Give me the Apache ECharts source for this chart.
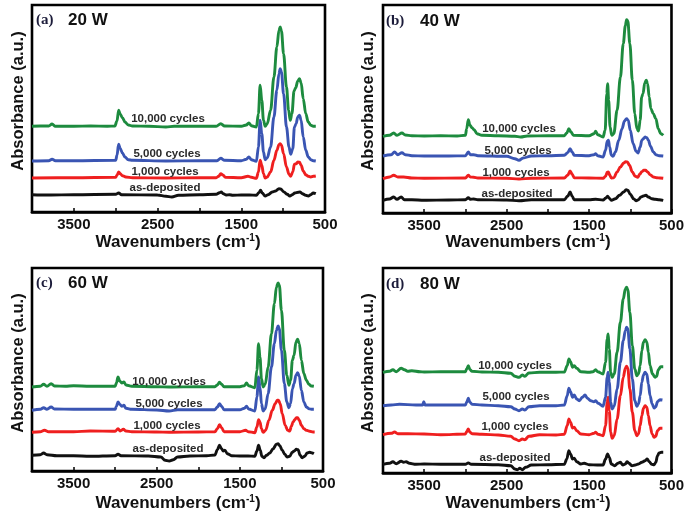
<!DOCTYPE html>
<html>
<head>
<meta charset="utf-8">
<script src="https://cdn.jsdelivr.net/npm/echarts@6/dist/echarts.min.js"></script>
<style>
  html, body { margin: 0; padding: 0; background: #fff; }
  #chart { width: 687px; height: 520px; }
</style>
</head>
<body>
<div id="chart"></div>
<script>
// FTIR absorbance spectra, [wavenumber (cm-1), absorbance (a.u., stacked offsets)]
const labelledTicks = [3500, 2500, 1500, 500];
const panelTags = ['(a)', '(b)', '(c)', '(d)'];
const powers = ['20 W', '40 W', '60 W', '80 W'];
const curveNames = ['as-deposited', '1,000 cycles', '5,000 cycles', '10,000 cycles'];

// ---- (a) 20 W ----
const a_asDeposited = [[4000,17.3],[3800,17],[3500,17.3],[3000,17.7],[2965,19],[2930,17.3],[2500,17],[2400,15.7],[2330,15],[2250,16.7],[2000,17.3],[1800,17.7],[1760,19.3],[1740,20],[1715,18.3],[1680,17],[1640,17.3],[1600,16.7],[1500,17],[1400,17],[1320,16.7],[1290,19.3],[1270,21.7],[1250,19],[1215,16],[1180,17.3],[1130,20],[1090,21],[1050,23.3],[1030,23],[990,20],[950,17.7],[920,16],[890,17.3],[860,19],[820,19.7],[800,20],[770,18.3],[730,16.7],[700,16],[670,17.3],[640,19],[610,18.3]];
const a_1000 = [[4000,34],[3500,34.3],[3000,34.7],[2985,36.7],[2965,40],[2945,38.3],[2920,36.3],[2880,35],[2800,34.3],[2400,34],[2000,34.3],[1800,34.3],[1770,35.7],[1745,38.3],[1720,37],[1690,34.7],[1500,34.3],[1420,35.7],[1380,34.7],[1320,33.7],[1295,40],[1275,51.7],[1255,46.7],[1235,38.3],[1215,34],[1190,35],[1150,40],[1110,51.7],[1075,61.7],[1050,67.3],[1035,68.3],[1020,66.7],[995,58.3],[960,45],[930,37.7],[910,35.7],[885,40],[865,47.7],[845,48.3],[825,50],[805,49.7],[785,46.7],[760,41],[730,37.3],[700,35.7],[670,35],[640,35.7],[610,36]];
const a_5000 = [[4000,51],[3800,51.3],[3760,52.7],[3720,51.3],[3500,51.3],[3000,51.7],[2985,56.7],[2965,67.7],[2945,63.3],[2920,59],[2890,55],[2850,52.3],[2800,51.7],[2400,51],[2000,51.3],[1790,51.3],[1745,53.7],[1700,51.7],[1500,51.3],[1440,52.7],[1410,55],[1380,52.3],[1320,50.7],[1295,65],[1275,91.7],[1255,78.3],[1235,60],[1215,52.3],[1190,54.3],[1150,65],[1110,95],[1075,121.7],[1050,138.3],[1035,143.3],[1020,140],[995,118.3],[960,85],[930,65],[910,57.7],[885,63.3],[865,85],[845,88.3],[825,95],[805,96.7],[785,91.7],[760,75],[730,61.7],[700,55],[670,52.3],[640,51.3],[610,51]];
const a_10000 = [[4000,85.7],[3900,86],[3800,86],[3760,88],[3720,85.7],[3500,85.7],[3300,86],[3100,85.7],[3010,86],[2985,91],[2965,101.7],[2945,97.7],[2920,94.3],[2890,90],[2850,87],[2800,86],[2600,85.7],[2400,85],[2300,85.7],[2000,85.7],[1800,85.7],[1745,88.3],[1700,86],[1500,85.7],[1440,87],[1410,89],[1380,86.3],[1320,85],[1295,98.3],[1275,126.7],[1255,111.7],[1235,91.7],[1215,85.7],[1190,88.3],[1150,101.7],[1110,135],[1075,165],[1050,181.7],[1035,185],[1020,181],[995,158.3],[960,125],[935,101.7],[915,91.7],[895,98.3],[870,121],[850,124.3],[825,131],[805,133.3],[785,129],[760,113.3],[730,98.3],[700,90],[670,86.7],[640,85.7],[610,85.7]];

// ---- (b) 40 W ----
const b_asDeposited = [[4000,12.7],[3920,14],[3870,16],[3830,13.7],[3780,16],[3740,13.3],[3650,13.3],[3500,12.7],[3200,13],[3000,13.3],[2965,15.3],[2940,13.7],[2900,14],[2850,13.3],[2500,13],[2350,12.3],[2200,13.3],[1800,13.3],[1760,16.7],[1730,21],[1705,16.7],[1680,13.3],[1500,13.3],[1420,13.7],[1330,13],[1300,14.7],[1275,16.7],[1255,14.7],[1230,12.7],[1180,14.3],[1130,17.7],[1080,21],[1050,23.3],[1030,22.7],[1000,18.7],[960,14.3],[930,12.3],[900,13.3],[870,16],[840,17],[810,17.7],[780,16],[740,14.3],[700,13.7],[650,13.3],[600,12.7]];
const b_1000 = [[4000,34.3],[3920,36],[3870,37.7],[3820,36],[3750,36],[3650,35],[3500,34.7],[3000,35],[2965,37.7],[2940,36],[2900,35.7],[2850,35],[2500,34.7],[2350,34],[2200,34.7],[1800,35],[1760,37.7],[1730,42],[1705,38.7],[1680,35.3],[1500,35],[1330,34.7],[1300,36.7],[1280,40.7],[1265,41],[1250,38],[1230,35],[1200,35.3],[1160,41],[1120,46],[1080,50],[1055,51.3],[1035,51],[1010,47.7],[975,41],[940,36.7],[910,35.7],[885,38.7],[860,41.3],[835,42.7],[815,42.7],[790,41],[760,38.3],[720,36],[680,35.3],[640,35],[600,34.7]];
const b_5000 = [[4000,57],[3900,58.3],[3860,61],[3820,58.3],[3770,60.3],[3730,58.3],[3650,57.3],[3500,57],[3200,57],[3000,57.3],[2965,61],[2940,58.3],[2900,58.3],[2850,57.3],[2500,56.7],[2400,54.3],[2350,52.7],[2300,55],[2200,57],[2000,57.3],[1800,57.7],[1760,60.3],[1730,64.3],[1705,61],[1680,57.7],[1500,57.3],[1440,58.3],[1420,59.3],[1395,57.3],[1330,56],[1300,62.7],[1280,71.7],[1265,72.7],[1250,66],[1230,57.7],[1210,56.7],[1180,61],[1140,72.7],[1100,84.3],[1070,92],[1045,94.3],[1025,92.7],[1000,82.7],[965,69.3],[930,61.7],[905,60],[880,66],[860,72.7],[840,74.3],[820,76],[800,75.3],[780,72.7],[755,66.7],[720,61],[690,58.3],[650,57.3],[600,57]];
const b_10000 = [[4000,76.7],[3920,77.7],[3870,80],[3830,77.7],[3770,80],[3730,78],[3650,77.3],[3500,77],[3300,77.3],[3100,77],[3000,77.7],[2985,84.3],[2965,93.3],[2945,87.7],[2920,85.3],[2895,83.3],[2860,79.3],[2800,77.7],[2600,77.3],[2400,76.7],[2330,76],[2250,77],[2000,77.3],[1800,77.3],[1770,80],[1745,84.3],[1720,81],[1690,77.7],[1500,77.3],[1440,79.3],[1420,81.7],[1395,78.3],[1330,76],[1305,82.7],[1285,119.3],[1275,129.3],[1262,112.7],[1245,86],[1225,77.7],[1200,79.3],[1160,102.7],[1120,135.7],[1085,169.3],[1060,187.3],[1045,193.3],[1030,192],[1005,169.3],[975,132.7],[945,99.3],[920,84.3],[900,82],[880,92.7],[862,116],[845,119.3],[825,130],[805,132.7],[790,129.3],[770,116],[750,104.3],[720,99.3],[690,94.3],[660,84.3],[630,79.3],[600,77.7]];

// ---- (c) 60 W ----
const c_asDeposited = [[4000,15.7],[3900,16.3],[3860,18],[3820,16.3],[3700,15.3],[3500,15.3],[3300,14.7],[3000,15.3],[2965,16.7],[2930,15.3],[2600,15],[2450,14],[2400,10.7],[2350,10],[2300,11.3],[2250,14],[2100,15],[1900,15.3],[1800,16],[1770,21.3],[1745,25.7],[1720,22.3],[1700,20],[1680,20.7],[1650,17.3],[1600,15.3],[1500,15],[1400,15],[1320,14.7],[1295,20],[1275,25.7],[1255,20.7],[1235,14.7],[1210,13.3],[1180,15.7],[1140,18],[1100,22.3],[1060,26.7],[1040,27.3],[1020,25.3],[990,20.7],[960,16.7],[930,14],[900,14.7],[870,18.7],[845,20],[820,21.7],[800,21.3],[775,15.7],[750,13.3],[720,14.7],[690,18],[660,18.7],[630,18],[610,17.3]];
const c_1000 = [[4000,38.7],[3900,39.3],[3850,40.7],[3800,39.3],[3500,39.3],[3300,40],[3000,39.7],[2965,42.3],[2940,40],[2900,41.7],[2870,40],[2800,39.3],[2500,39],[2350,38.7],[2000,39],[1800,39.3],[1770,42.3],[1745,46.3],[1720,43.3],[1690,39.3],[1500,39.3],[1430,40.7],[1400,39.3],[1320,38.3],[1295,44],[1275,51.3],[1258,49],[1240,42.3],[1220,38.7],[1190,40.7],[1150,50.7],[1110,60.7],[1075,67.3],[1050,70.7],[1035,70.7],[1015,67.3],[990,57.3],[955,45.7],[925,40.7],[900,40],[880,44.7],[860,49],[840,51.3],[820,53.3],[805,53.3],[785,50.7],[760,45.7],[730,42.3],[700,40.7],[660,39.7],[620,39],[600,39]];
const c_5000 = [[4000,60.7],[3900,61.7],[3860,63.3],[3820,61.7],[3770,64],[3730,62],[3500,61.7],[3000,61.7],[2985,64.7],[2965,69],[2945,66.7],[2920,64.7],[2895,65.7],[2870,62.7],[2800,61.7],[2500,61],[2350,60],[2250,61.3],[2000,61.3],[1800,61.3],[1770,64],[1745,67.3],[1720,64.7],[1690,61.3],[1500,61.3],[1445,62.7],[1420,64.7],[1395,62],[1320,60],[1295,74],[1275,94],[1258,84],[1240,67.3],[1220,60],[1195,62.3],[1160,77.3],[1120,104],[1085,127.3],[1060,140.7],[1040,145],[1025,142.3],[1000,120.7],[965,87.3],[935,69],[910,63.3],[890,67.3],[868,82.3],[848,87.3],[825,95.7],[805,98.3],[785,94.7],[760,80.7],[730,69],[700,64],[670,62.3],[640,61.7],[610,61.7]];
const c_10000 = [[4000,84],[3900,84.7],[3860,86.7],[3820,84.7],[3770,87.3],[3730,85],[3600,84.7],[3500,85.3],[3300,84.7],[3000,84.7],[2985,88],[2965,94],[2945,90],[2920,88],[2895,89],[2870,86],[2800,84.7],[2500,84.3],[2350,84],[2000,84.3],[1800,84.3],[1770,86],[1745,88.7],[1720,86.7],[1690,84.3],[1500,84.3],[1445,85.3],[1420,88],[1395,85.3],[1320,83.3],[1295,100.7],[1275,127.3],[1258,114],[1240,92.3],[1220,84],[1195,86.7],[1160,104],[1120,137.3],[1085,167.3],[1060,184],[1040,188],[1025,185.7],[1000,160.7],[965,120.7],[935,95.7],[910,85.7],[890,90.7],[868,110.7],[848,115.7],[825,129],[805,131.7],[785,127.3],[760,110.7],[730,97.3],[700,90.7],[670,86.7],[640,85],[610,84.7]];

// ---- (d) 80 W ----
const d_asDeposited = [[4000,8.7],[3920,9.7],[3880,11.3],[3840,9.3],[3780,11.7],[3750,10.7],[3720,11.3],[3680,9.7],[3600,8.7],[3500,9],[3300,8.7],[3000,8.7],[2965,10],[2930,8.7],[2600,8.3],[2450,7.3],[2400,4],[2370,3.3],[2340,4.7],[2310,3.3],[2270,5.7],[2200,8],[2000,8.3],[1800,8.7],[1770,14],[1745,22.3],[1725,19],[1700,14],[1680,14.7],[1650,11.3],[1600,9],[1560,9.7],[1500,8.3],[1400,8],[1330,8],[1300,14],[1275,19],[1255,15.7],[1230,9],[1190,7.3],[1150,9.7],[1120,10.7],[1090,8],[1060,9],[1040,11.3],[1015,9.7],[980,7.3],[940,8],[900,9],[860,10.7],[820,12.3],[795,14],[770,11.3],[740,8.7],[710,8.3],[690,10.7],[670,17.3],[650,20],[620,20.7],[600,20.7]];
const d_1000 = [[4000,38.3],[3900,39.7],[3860,41],[3820,39.3],[3700,39.3],[3500,39],[3300,38.3],[3000,39],[2985,41.3],[2965,44],[2945,40.7],[2920,39.3],[2800,38.7],[2600,38],[2450,36.7],[2400,34],[2350,32.3],[2310,34],[2280,33.3],[2230,36.7],[2100,38.3],[1900,38],[1800,38.7],[1765,47.3],[1745,54],[1725,50.7],[1700,45],[1680,45.7],[1650,42.3],[1600,39],[1500,38.3],[1440,39.7],[1420,40.7],[1390,38.7],[1330,37.3],[1300,47.3],[1280,70.7],[1268,75.7],[1255,62.3],[1238,40.7],[1220,34.7],[1195,37.3],[1160,54],[1120,77.3],[1085,95.7],[1060,104.7],[1045,106.7],[1030,104.7],[1005,84],[975,60.7],[945,42.3],[920,37.3],[900,39],[880,47.3],[860,57.3],[840,64.7],[820,67.3],[800,65.7],[780,57.3],[760,47.3],[735,39],[710,35.7],[690,36.7],[670,42.3],[640,44.7],[610,44.7]];
const d_5000 = [[4000,67.3],[3900,68],[3800,68.7],[3600,68],[3520,68],[3505,71.3],[3490,68],[3300,68],[3000,68],[2985,70.7],[2965,74.7],[2945,70.7],[2920,68.7],[2800,68],[2600,67.3],[2450,66.3],[2400,64],[2350,62.3],[2310,64],[2280,63],[2230,66.3],[2100,67.3],[1900,67.3],[1800,68],[1765,77.3],[1745,84.7],[1725,81.3],[1700,75.7],[1680,78],[1650,74],[1620,72.3],[1580,75.7],[1550,78],[1520,74.7],[1480,72.3],[1440,71.3],[1420,72.3],[1390,69.7],[1330,66.7],[1300,75.7],[1280,95.7],[1268,100.7],[1255,90.7],[1238,70.7],[1220,64],[1195,66.7],[1160,84],[1120,110.7],[1085,132.3],[1060,142.3],[1045,145.7],[1030,144],[1005,124],[975,94],[945,72.3],[920,66.7],[900,69],[880,77.3],[860,90.7],[840,98],[820,100.7],[800,99],[780,89],[760,77.3],[735,69],[710,65],[690,66.3],[670,71.3],[640,73.3],[610,73]];
const d_10000 = [[4000,100.7],[3920,101.7],[3880,103.3],[3840,101.3],[3780,104.7],[3740,103.3],[3700,101.7],[3650,102.3],[3550,101.3],[3500,101],[3300,101.3],[3000,101.3],[2985,104],[2965,107.3],[2945,103.3],[2920,101.7],[2800,101],[2600,100.7],[2450,99.7],[2400,96.7],[2350,95.7],[2310,98],[2280,96.7],[2230,100],[2100,100.7],[1900,100.7],[1800,101],[1765,107.3],[1745,114],[1725,111.3],[1700,105.7],[1680,107.3],[1650,104.7],[1600,101.3],[1500,100.7],[1450,101.3],[1420,103.3],[1395,101.3],[1330,99],[1300,110.7],[1280,134],[1268,139],[1255,124],[1238,100.7],[1220,95.7],[1195,99],[1160,120.7],[1120,150.7],[1085,174],[1060,184],[1045,185.7],[1030,183.3],[1005,160.7],[975,127.3],[945,104],[920,97.3],[900,99],[880,107.3],[860,122.3],[840,130.7],[820,133.3],[800,131.3],[780,120.7],[760,107.3],[730,99],[700,95.7],[680,96.7],[660,103.3],[630,106.3],[600,106.3]];

const panelData = [
  [a_asDeposited, a_1000, a_5000, a_10000],
  [b_asDeposited, b_1000, b_5000, b_10000],
  [c_asDeposited, c_1000, c_5000, c_10000],
  [d_asDeposited, d_1000, d_5000, d_10000]
];

// drawing style
const curveColors = ['#111111', '#ef1f1f', '#3a55b3', '#1d8b3e'];
const panels = [
  { left: 32,  top: 5,   width: 293, height: 207, tagX: 36,  tagY: 20,  powX: 68,  yTitleX: 18,  yTitleY: 101, xTitleX: 178, xTitleY: 242,
    labels: [[165, 188], [165, 172], [167, 154], [168, 119]] },
  { left: 383, top: 5,   width: 292, height: 208, tagX: 386, tagY: 21,  powX: 420, yTitleX: 368, yTitleY: 101, xTitleX: 528, xTitleY: 242,
    labels: [[517, 194], [516, 173], [518, 151], [519, 129]] },
  { left: 32,  top: 268, width: 291, height: 203, tagX: 36,  tagY: 283, powX: 68,  yTitleX: 18,  yTitleY: 363, xTitleX: 178, xTitleY: 503,
    labels: [[168, 449], [167, 426], [169, 404], [169, 382]] },
  { left: 383, top: 268, width: 292, height: 205, tagX: 386, tagY: 284, powX: 420, yTitleX: 368, yTitleY: 363, xTitleX: 528, xTitleY: 503,
    labels: [[515, 458], [515, 427], [516, 397], [515, 366]] }
];

const chart = echarts.init(document.getElementById('chart'), null, { renderer: 'canvas' });

const grid = [], xAxis = [], yAxis = [], series = [], graphic = [];
const boldSans = '"Liberation Sans", Arial, sans-serif';

panels.forEach((p, i) => {
  grid.push({ left: p.left, top: p.top, width: p.width, height: p.height,
    show: true, borderColor: '#000', borderWidth: 2.6, backgroundColor: 'transparent' });
  xAxis.push({
    gridIndex: i, type: 'value', min: 500, max: 4000, interval: 500, inverse: true,
    axisLine: { show: true, lineStyle: { color: '#000', width: 2.6 } },
    axisTick: { show: true, inside: true, length: 4, lineStyle: { color: '#000', width: 1.5 } },
    splitLine: { show: false },
    axisLabel: {
      show: true, margin: 5, showMinLabel: true, showMaxLabel: true,
      color: '#111', fontFamily: boldSans, fontWeight: 'bold', fontSize: 15,
      formatter: v => labelledTicks.includes(v) ? String(v) : ''
    }
  });
  yAxis.push({
    gridIndex: i, type: 'value', min: 0, max: p.height,
    axisLine: { show: false }, axisTick: { show: false }, axisLabel: { show: false }, splitLine: { show: false }
  });
  panelData[i].forEach((curve, k) => {
    series.push({
      type: 'line', name: curveNames[k], xAxisIndex: i, yAxisIndex: i, data: curve,
      showSymbol: false, smooth: 0.35, smoothMonotone: 'x', silent: true,
      lineStyle: { color: curveColors[k], width: 2.9 }, z: 2 + k
    });
  });

  // panel tag and power
  graphic.push({ type: 'text', style: { text: panelTags[i], x: p.tagX, y: p.tagY, align: 'left', verticalAlign: 'middle',
    font: 'bold 15px "Liberation Serif", "Times New Roman", serif', fill: '#1c1c3a' } });
  graphic.push({ type: 'text', style: { text: powers[i], x: p.powX, y: p.tagY, align: 'left', verticalAlign: 'middle',
    font: 'bold 17px ' + boldSans, fill: '#111' } });
  // axis titles
  graphic.push({ type: 'text', x: p.yTitleX, y: p.yTitleY, rotation: Math.PI / 2,
    style: { text: 'Absorbance (a.u.)', x: 0, y: 0, align: 'center', verticalAlign: 'middle',
      font: 'bold 16.5px ' + boldSans, fill: '#111' } });
  graphic.push({ type: 'text', x: p.xTitleX, y: p.xTitleY,
    style: { text: 'Wavenumbers (cm{sup|-1})', x: 0, y: 0, align: 'center', verticalAlign: 'middle',
      font: 'bold 17px ' + boldSans, fill: '#111',
      rich: { sup: { fontSize: 10, fontWeight: 'bold', fontFamily: boldSans, verticalAlign: 'top', fill: '#111' } } } });
  // curve labels
  p.labels.forEach((pos, k) => {
    graphic.push({ type: 'text', style: { text: curveNames[k], x: pos[0], y: pos[1], align: 'center', verticalAlign: 'middle',
      font: 'bold 11.5px ' + boldSans, fill: '#2a2a2a' }, z: 100 });
  });
});

chart.setOption({
  animation: false,
  backgroundColor: '#fff',
  grid, xAxis, yAxis, series, graphic
});
</script>
</body>
</html>
